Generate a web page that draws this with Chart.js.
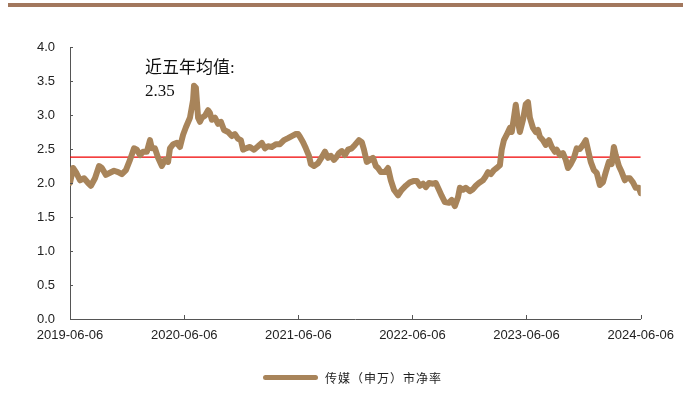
<!DOCTYPE html>
<html>
<head>
<meta charset="utf-8">
<script src="https://cdn.jsdelivr.net/npm/chart.js@4/dist/chart.umd.min.js"></script>
<style>
  html, body { margin: 0; padding: 0; background: #fff; }
  #wrap { position: relative; width: 683px; height: 417px; overflow: hidden; }
  #topbar { position: absolute; left: 8px; top: 3px; width: 675px; height: 4px; background: #A2775D; }
  canvas { position: absolute; left: 0; top: 0; }
  .note { position: absolute; font-family: "Liberation Serif", "Noto Sans CJK SC", serif; font-size: 17px; color: #111; line-height: 20px; }
  #legend { position: absolute; left: 263px; top: 367px; height: 20px; display: flex; align-items: center; }
  #legend .swatch { width: 55px; height: 5px; border-radius: 3px; background: #A8845A; margin-right: 7px; }
  #legend .lbl { font-family: "Noto Sans CJK SC", sans-serif; font-size: 12px; letter-spacing: 1px; color: #222; }
</style>
</head>
<body>
<div id="wrap">
  <div id="topbar"></div>
  <canvas id="c" width="683" height="417"></canvas>
  <div class="note" style="left:145px; top:58px;">近五年均值:</div>
  <div class="note" style="left:145px; top:81px;">2.35</div>
  <div id="legend"><div class="swatch"></div><div class="lbl">传媒（申万）市净率</div></div>
</div>
<script>
// Days since 2019-06-06
const dayOffsets = [
  0,10,19,32,45,58,67,80,93,102,
  115,128,141,154,166,179,192,205,214,224,
  234,246,256,262,272,282,294,304,314,320,
  330,342,352,362,371,384,394,397,403,410,
  416,422,432,442,448,454,464,474,483,493,
  506,518,528,538,547,554,563,576,589,602,
  614,624,634,646,659,672,685,698,710,723,
  730,736,746,755,765,771,781,794,806,816,
  826,835,845,851,861,870,880,890,902,912,
  925,934,941,950,960,970,979,986,995,1008,
  1018,1027,1037,1050,1062,1075,1088,1101,1110,1120,
  1130,1139,1149,1162,1171,1181,1190,1200,1213,1222,
  1232,1242,1248,1258,1267,1280,1290,1299,1309,1322,
  1331,1338,1347,1357,1366,1376,1382,1389,1398,1408,
  1414,1421,1427,1434,1440,1450,1459,1466,1472,1482,
  1491,1498,1504,1514,1523,1533,1542,1552,1558,1568,
  1578,1587,1594,1603,1613,1622,1632,1642,1651,1658,
  1667,1677,1686,1696,1706,1715,1725,1734,1741,1747,
  1757,1766,1776,1782,1792,1802,1811,1821,1827
];
// 传媒（申万）市净率
const pbValues = [
  2.00,2.22,2.16,2.04,2.07,2.00,1.96,2.07,2.25,2.22,
  2.12,2.15,2.18,2.16,2.13,2.19,2.34,2.51,2.49,2.41,
  2.46,2.46,2.63,2.51,2.51,2.37,2.25,2.34,2.31,2.51,
  2.57,2.59,2.53,2.71,2.82,2.96,3.22,3.43,3.40,2.96,
  2.90,2.96,2.99,3.07,3.03,2.93,2.96,2.87,2.90,2.78,
  2.75,2.69,2.72,2.65,2.63,2.49,2.51,2.53,2.49,2.54,
  2.59,2.51,2.54,2.53,2.57,2.57,2.63,2.66,2.69,2.72,
  2.72,2.68,2.60,2.51,2.40,2.28,2.25,2.29,2.38,2.46,
  2.37,2.40,2.34,2.37,2.44,2.47,2.41,2.49,2.51,2.56,
  2.63,2.60,2.49,2.31,2.34,2.37,2.25,2.22,2.16,2.16,
  2.22,2.04,1.90,1.82,1.90,1.96,2.01,2.03,2.03,1.96,
  1.99,1.94,2.00,1.99,2.00,1.90,1.81,1.72,1.71,1.75,
  1.66,1.79,1.93,1.90,1.93,1.88,1.91,1.96,2.00,2.04,
  2.10,2.16,2.13,2.19,2.22,2.26,2.49,2.63,2.71,2.81,
  2.75,2.96,3.15,2.90,2.75,2.93,3.16,3.19,2.96,2.81,
  2.75,2.78,2.68,2.63,2.56,2.63,2.53,2.46,2.49,2.41,
  2.44,2.34,2.22,2.28,2.37,2.51,2.50,2.56,2.63,2.49,
  2.31,2.19,2.15,1.97,2.01,2.16,2.31,2.28,2.53,2.41,
  2.25,2.16,2.04,2.07,2.07,2.01,1.93,1.93,1.85
];
const avgLineValue = 2.38;
const tickDays = [0, 366, 731, 1096, 1461, 1827];
const tickLabels = ['2019-06-06','2020-06-06','2021-06-06','2022-06-06','2023-06-06','2024-06-06'];
const yTicks = [0, 0.5, 1, 1.5, 2, 2.5, 3, 3.5, 4];

const seriesData = dayOffsets.map((d, i) => ({ x: d, y: pbValues[i] }));
const avgData = [{ x: tickDays[0], y: avgLineValue }, { x: tickDays[tickDays.length - 1], y: avgLineValue }];

const innerTicks = {
  id: 'innerTicks',
  afterDraw(chart) {
    const ctx = chart.ctx;
    const xs = chart.scales.x, ys = chart.scales.y;
    ctx.save();
    ctx.strokeStyle = '#555';
    ctx.lineWidth = 1;
    ctx.beginPath();
    tickDays.forEach(d => {
      const px = Math.round(xs.getPixelForValue(d)) + 0.5;
      ctx.moveTo(px, ys.bottom); ctx.lineTo(px, ys.bottom - 4);
    });
    yTicks.forEach(v => {
      const py = Math.round(ys.getPixelForValue(v)) + 0.5;
      ctx.moveTo(xs.left, py); ctx.lineTo(xs.left + 3, py);
    });
    ctx.stroke();
    ctx.restore();
  }
};

new Chart(document.getElementById('c'), {
  type: 'line',
  data: {
    datasets: [
      { label: '传媒（申万）市净率', data: seriesData, borderColor: '#A8845A', backgroundColor: '#A8845A',
        borderWidth: 6, pointRadius: 0, tension: 0, borderJoinStyle: 'round', borderCapStyle: 'round' },
      { label: 'avg', data: avgData, borderColor: '#F00000', borderWidth: 1.3, pointRadius: 0, tension: 0 }
    ]
  },
  options: {
    responsive: false,
    animation: false,
    layout: { padding: { left: 0, top: 47, right: 42, bottom: 0 } },
    plugins: { legend: { display: false }, tooltip: { enabled: false } },
    scales: {
      x: {
        type: 'linear', min: 0, max: 1827,
        afterBuildTicks: s => { s.ticks = tickDays.map(v => ({ value: v })); },
        afterFit: s => { s.height = 98; },
        ticks: {
          autoSkip: false, maxRotation: 0, minRotation: 0, padding: 9,
          color: '#222', font: { family: '"Liberation Sans", Arial, sans-serif', size: 13 },
          callback: (v) => { const i = tickDays.indexOf(v); return i >= 0 ? tickLabels[i] : ''; }
        },
        grid: { display: true, drawOnChartArea: false, drawTicks: false },
        border: { display: true, color: '#555', width: 1 }
      },
      y: {
        min: 0, max: 4,
        afterBuildTicks: s => { s.ticks = yTicks.map(v => ({ value: v })); },
        afterFit: s => { s.width = 70; },
        ticks: {
          padding: 15, color: '#222', font: { family: '"Liberation Sans", Arial, sans-serif', size: 13 },
          callback: v => Number(v).toFixed(1)
        },
        grid: { display: true, drawOnChartArea: false, drawTicks: false },
        border: { display: true, color: '#555', width: 1 }
      }
    }
  },
  plugins: [innerTicks]
});
</script>
</body>
</html>
